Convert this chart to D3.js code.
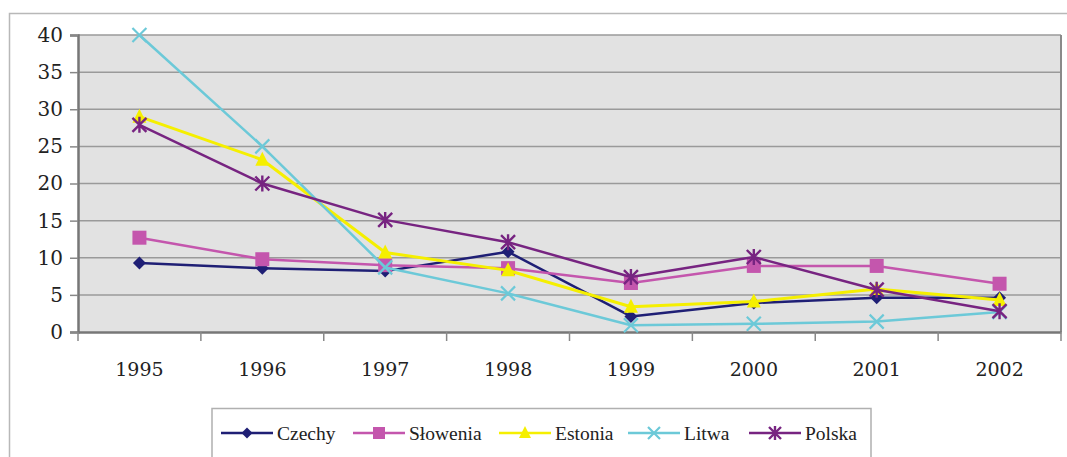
<!DOCTYPE html>
<html><head><meta charset="utf-8">
<script src="https://cdn.jsdelivr.net/npm/d3@7"></script>
<style>body{margin:0;background:#fff}svg{display:block}</style>
</head><body>
<svg id="c" width="1067" height="457"></svg>
<script>
const years = ["1995","1996","1997","1998","1999","2000","2001","2002"];
const czechy   = [9.3, 8.6, 8.2, 10.8, 2.1, 3.9, 4.6, 4.6];
const slowenia = [12.7, 9.8, 9.0, 8.6, 6.6, 8.9, 8.9, 6.5];
const estonia  = [29.0, 23.2, 10.7, 8.3, 3.4, 4.1, 5.8, 4.3];
const litwa    = [40.0, 25.0, 8.7, 5.2, 0.9, 1.1, 1.4, 2.7];
const polska   = [27.9, 20.0, 15.1, 12.1, 7.4, 10.1, 5.7, 2.8];
const yTicks = [0,5,10,15,20,25,30,35,40];
const seriesNames = ["Czechy","Słowenia","Estonia","Litwa","Polska"];
const seriesColors = ["#1f1f75","#c456ad","#f5ef00","#6cc9d8","#772481"];
const seriesMarkers = ["diamond","square","triangle","x","star"];
const seriesData = [czechy, slowenia, estonia, litwa, polska];

const AXF = '"DejaVu Serif", serif';
const LGF = '"Liberation Serif", serif';

const svg = d3.select("#c");
const L = 78, T = 35, R = 1061, B = 332;

svg.append("path").attr("d","M9.5,457 V13.5 H1067").attr("fill","none").attr("stroke","#b8b8b8").attr("stroke-width",1.5);

const x = d3.scaleBand().domain(years).range([L,R]);
const y = d3.scaleLinear().domain([0,40]).range([B,T]);

svg.append("rect").attr("x",L).attr("y",T).attr("width",R-L).attr("height",B-T).attr("fill","#e2e2e2");

svg.append("g").selectAll("line").data(yTicks.filter(d=>d>0)).join("line")
  .attr("x1",L).attr("x2",R).attr("y1",d=>y(d)).attr("y2",d=>y(d))
  .attr("stroke","#9a9a9a").attr("stroke-width",1.5);
svg.append("line").attr("x1",R).attr("x2",R).attr("y1",T).attr("y2",B).attr("stroke","#8a8a8a").attr("stroke-width",2);

const ya = svg.append("g").attr("transform",`translate(${L},0)`)
  .call(d3.axisLeft(y).tickValues(yTicks).tickSize(8).tickPadding(7));
ya.select(".domain").attr("stroke","#777").attr("stroke-width",2.5);
ya.selectAll(".tick line").attr("stroke","#888").attr("stroke-width",1.5);
ya.selectAll("text").style("font-family",AXF).style("font-size","20px").attr("fill","#222");

const xa = svg.append("g").attr("transform",`translate(0,${B})`)
  .call(d3.axisBottom(x).tickSize(0).tickPadding(0));
xa.select(".domain").attr("stroke","#777").attr("stroke-width",2.5);
xa.selectAll(".tick line").remove();
xa.selectAll("text").style("font-family",AXF).style("font-size","19px").attr("fill","#222").attr("dy",0).attr("y",44);
const bounds = years.map(d=>x(d)).concat([R]);
svg.append("g").selectAll("line").data(bounds).join("line")
  .attr("x1",d=>d).attr("x2",d=>d).attr("y1",B).attr("y2",B+9)
  .attr("stroke","#888").attr("stroke-width",1.5);

const cx = d => x(d) + x.bandwidth()/2;

function marker(g, type, color, px, py, s) {
  if (type==="diamond") {
    g.append("path").attr("d",`M${px},${py-s}L${px+s},${py}L${px},${py+s}L${px-s},${py}Z`).attr("fill",color);
  } else if (type==="square") {
    g.append("rect").attr("x",px-s).attr("y",py-s).attr("width",2*s).attr("height",2*s).attr("fill",color);
  } else if (type==="triangle") {
    g.append("path").attr("d",`M${px},${py-s-1}L${px+s},${py+s-1}L${px-s},${py+s-1}Z`).attr("fill",color);
  } else if (type==="x") {
    g.append("path").attr("d",`M${px-s},${py-s}L${px+s},${py+s}M${px-s},${py+s}L${px+s},${py-s}`).attr("stroke",color).attr("stroke-width",2.2);
  } else if (type==="star") {
    g.append("path").attr("d",`M${px-s},${py-s}L${px+s},${py+s}M${px-s},${py+s}L${px+s},${py-s}M${px},${py-s-1}L${px},${py+s+1}`).attr("stroke",color).attr("stroke-width",2.4);
  }
}
const msize = {diamond:6.5, square:7, triangle:7, x:7, star:7};

const line = d3.line().x((d,i)=>cx(years[i])).y(d=>y(d));
seriesData.forEach((data,k)=>{
  const g = svg.append("g");
  g.append("path").attr("d",line(data)).attr("fill","none")
    .attr("stroke",seriesColors[k]).attr("stroke-width",k===2?3:2.5).attr("stroke-linejoin","round");
  data.forEach((v,i)=>marker(g, seriesMarkers[k], seriesColors[k], cx(years[i]), y(v), msize[seriesMarkers[k]]));
});

svg.append("path").attr("d","M212,457 V408.5 H871 V457").attr("fill","none").attr("stroke","#b0b0b0").attr("stroke-width",1.5);
const legX = [221, 353, 499, 628, 749];
const ly = 433;
seriesNames.forEach((n,k)=>{
  const g = svg.append("g");
  g.append("line").attr("x1",legX[k]).attr("x2",legX[k]+52).attr("y1",ly).attr("y2",ly)
    .attr("stroke",seriesColors[k]).attr("stroke-width",2.5);
  marker(g, seriesMarkers[k], seriesColors[k], legX[k]+26, ly, msize[seriesMarkers[k]]-1);
  g.append("text").attr("x",legX[k]+56).attr("y",ly+6.5).text(n)
    .style("font-family",LGF).style("font-size","19.5px").attr("fill","#222");
});
</script>
</body></html>
